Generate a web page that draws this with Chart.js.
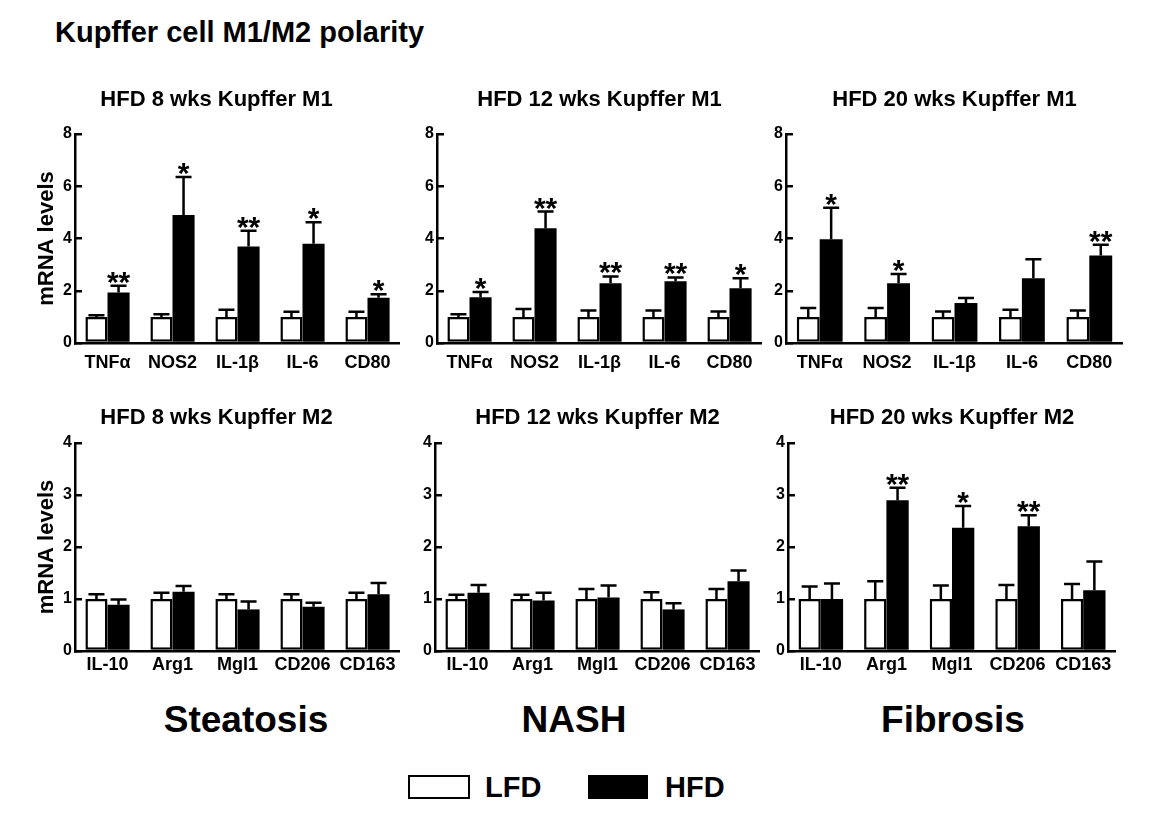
<!DOCTYPE html>
<html>
<head>
<meta charset="utf-8">
<title>Kupffer cell M1/M2 polarity</title>
<script src="https://cdn.jsdelivr.net/npm/chart.js@4.4.1/dist/chart.umd.min.js"></script>
<style>
  body { margin: 0; background: #fff; font-family: 'Liberation Sans', Arial, sans-serif; }
  #page { position: relative; width: 1151px; height: 826px; overflow: hidden; background: #fff; }
  .txt { position: absolute; font-weight: bold; line-height: 1; white-space: nowrap; color: #000; }
  .ctr { text-align: center; width: 300px; }
  canvas { position: absolute; }
  .box { position: absolute; box-sizing: border-box; border: 2.5px solid #000; }
</style>
</head>
<body>
<div id="page">
  <div class="txt" style="left:55px;top:18px;font-size:29px">Kupffer cell M1/M2 polarity</div>

  <canvas id="p1"></canvas>
  <canvas id="p2"></canvas>
  <canvas id="p3"></canvas>
  <canvas id="p4"></canvas>
  <canvas id="p5"></canvas>
  <canvas id="p6"></canvas>

  <div class="txt ctr" style="left:96px;top:701px;font-size:37px">Steatosis</div>
  <div class="txt ctr" style="left:424px;top:701px;font-size:37px">NASH</div>
  <div class="txt ctr" style="left:803px;top:701px;font-size:37px">Fibrosis</div>

  <div class="box" style="left:408px;top:775px;width:62px;height:24px;background:#fff"></div>
  <div class="txt" style="left:485px;top:773px;font-size:29px">LFD</div>
  <div class="box" style="left:588px;top:775px;width:60px;height:24px;background:#000"></div>
  <div class="txt" style="left:665px;top:773px;font-size:29px">HFD</div>
</div>

<script>
// genes
const m1Genes = ['TNFα', 'NOS2', 'IL-1β', 'IL-6', 'CD80'];
const m2Genes = ['IL-10', 'Arg1', 'Mgl1', 'CD206', 'CD163'];

// HFD 8 wks, M1
const lfd8M1 = [1, 1, 1, 1, 1];
const lfd8M1Sem = [0.06, 0.1, 0.27, 0.2, 0.2];
const hfd8M1 = [1.93, 4.9, 3.69, 3.8, 1.73];
const hfd8M1Sem = [0.26, 1.45, 0.61, 0.82, 0.14];
const sig8M1 = ['**', '*', '**', '*', '*'];

// HFD 12 wks, M1
const lfd12M1 = [1, 1, 1, 1, 1];
const lfd12M1Sem = [0.1, 0.3, 0.24, 0.24, 0.21];
const hfd12M1 = [1.75, 4.39, 2.29, 2.36, 2.1];
const hfd12M1Sem = [0.2, 0.64, 0.26, 0.15, 0.38];
const sig12M1 = ['*', '**', '**', '**', '*'];

// HFD 20 wks, M1
const lfd20M1 = [1, 1, 1, 1, 1];
const lfd20M1Sem = [0.34, 0.34, 0.21, 0.27, 0.24];
const hfd20M1 = [3.97, 2.29, 1.53, 2.48, 3.35];
const hfd20M1Sem = [1.21, 0.35, 0.19, 0.73, 0.41];
const sig20M1 = ['*', '*', '', '', '**'];

// HFD 8 wks, M2
const lfd8M2 = [1, 1, 1, 1, 1];
const lfd8M2Sem = [0.09, 0.12, 0.09, 0.09, 0.12];
const hfd8M2 = [0.89, 1.14, 0.8, 0.85, 1.09];
const hfd8M2Sem = [0.1, 0.11, 0.15, 0.08, 0.22];
const sig8M2 = ['', '', '', '', ''];

// HFD 12 wks, M2
const lfd12M2 = [1, 1, 1, 1, 1];
const lfd12M2Sem = [0.08, 0.08, 0.19, 0.13, 0.19];
const hfd12M2 = [1.12, 0.97, 1.03, 0.8, 1.34];
const hfd12M2Sem = [0.15, 0.15, 0.23, 0.12, 0.21];
const sig12M2 = ['', '', '', '', ''];

// HFD 20 wks, M2
const lfd20M2 = [1, 1, 1, 1, 1];
const lfd20M2Sem = [0.24, 0.34, 0.26, 0.27, 0.29];
const hfd20M2 = [1.0, 2.9, 2.37, 2.4, 1.17];
const hfd20M2Sem = [0.3, 0.24, 0.42, 0.21, 0.55];
const sig20M2 = ['', '**', '*', '**', ''];

const yMaxM1 = 8, yStepM1 = 2;
const yMaxM2 = 4, yStepM2 = 1;

Chart.defaults.font.family = "'Liberation Sans', Arial, sans-serif";
Chart.defaults.color = '#000';

// SEM bars (upward only) and significance stars
const errorBars = {
  id: 'errorBars',
  afterDatasetsDraw(chart) {
    const ctx = chart.ctx;
    const y = chart.scales.y;
    ctx.save();
    ctx.strokeStyle = '#000';
    ctx.fillStyle = '#000';
    ctx.lineWidth = 2.5;
    chart.data.datasets.forEach((ds, i) => {
      chart.getDatasetMeta(i).data.forEach((bar, j) => {
        const top = y.getPixelForValue(ds.data[j] + ds.sem[j]);
        ctx.beginPath();
        ctx.moveTo(bar.x, bar.y);
        ctx.lineTo(bar.x, top);
        ctx.moveTo(bar.x - 8, top);
        ctx.lineTo(bar.x + 8, top);
        ctx.stroke();
        if (ds.sig && ds.sig[j]) {
          ctx.font = "bold 30px 'Liberation Sans', Arial, sans-serif";
          ctx.textAlign = 'center';
          ctx.textBaseline = 'alphabetic';
          ctx.fillText(ds.sig[j], bar.x, top + 6);
        }
      });
    });
    ctx.restore();
  }
};

const panels = [
  { id: 'p1', title: 'HFD 8 wks Kupffer M1', labels: m1Genes, lfd: lfd8M1, lfdSem: lfd8M1Sem, hfd: hfd8M1, hfdSem: hfd8M1Sem, sig: sig8M1,
    max: yMaxM1, step: yStepM1, row: 0, left: 33, width: 367, yWidth: 42, yTitle: true },
  { id: 'p2', title: 'HFD 12 wks Kupffer M1', labels: m1Genes, lfd: lfd12M1, lfdSem: lfd12M1Sem, hfd: hfd12M1, hfdSem: hfd12M1Sem, sig: sig12M1,
    max: yMaxM1, step: yStepM1, row: 0, left: 410, width: 352, yWidth: 27 },
  { id: 'p3', title: 'HFD 20 wks Kupffer M1', labels: m1Genes, lfd: lfd20M1, lfdSem: lfd20M1Sem, hfd: hfd20M1, hfdSem: hfd20M1Sem, sig: sig20M1,
    max: yMaxM1, step: yStepM1, row: 0, left: 760, width: 363, yWidth: 26 },
  { id: 'p4', title: 'HFD 8 wks Kupffer M2', labels: m2Genes, lfd: lfd8M2, lfdSem: lfd8M2Sem, hfd: hfd8M2, hfdSem: hfd8M2Sem, sig: sig8M2,
    max: yMaxM2, step: yStepM2, row: 1, left: 33, width: 367, yWidth: 42, yTitle: true },
  { id: 'p5', title: 'HFD 12 wks Kupffer M2', labels: m2Genes, lfd: lfd12M2, lfdSem: lfd12M2Sem, hfd: hfd12M2, hfdSem: hfd12M2Sem, sig: sig12M2,
    max: yMaxM2, step: yStepM2, row: 1, left: 410, width: 350, yWidth: 25 },
  { id: 'p6', title: 'HFD 20 wks Kupffer M2', labels: m2Genes, lfd: lfd20M2, lfdSem: lfd20M2Sem, hfd: hfd20M2, hfdSem: hfd20M2Sem, sig: sig20M2,
    max: yMaxM2, step: yStepM2, row: 1, left: 760, width: 356, yWidth: 28 }
];

// row geometry: canvas top, canvas height, title padding, x label padding
const rows = [
  { top: 80, height: 303, titlePad: { top: 7, bottom: 20.6 }, labelPad: 1 },
  { top: 395, height: 296, titlePad: { top: 9.3, bottom: 12.3 }, labelPad: -5 }
];

panels.forEach(p => {
  const r = rows[p.row];
  const cv = document.getElementById(p.id);
  cv.width = p.width;
  cv.height = r.height;
  cv.style.left = p.left + 'px';
  cv.style.top = r.top + 'px';

  new Chart(cv, {
    type: 'bar',
    data: {
      labels: p.labels,
      datasets: [
        { label: 'LFD', data: p.lfd, sem: p.lfdSem, backgroundColor: '#fff', borderColor: '#000', borderWidth: 2.5, borderSkipped: false,
          categoryPercentage: 0.68, barPercentage: 1 },
        { label: 'HFD', data: p.hfd, sem: p.hfdSem, sig: p.sig, backgroundColor: '#000', borderColor: '#000', borderWidth: 0,
          categoryPercentage: 0.68, barPercentage: 1 }
      ]
    },
    options: {
      responsive: false,
      animation: false,
      devicePixelRatio: 1,
      layout: { padding: 0 },
      plugins: {
        legend: { display: false },
        tooltip: { enabled: false },
        title: {
          display: true,
          text: p.title,
          fullSize: !!p.yTitle,
          color: '#000',
          font: { size: 22, weight: 'bold' },
          padding: r.titlePad
        }
      },
      scales: {
        x: {
          offset: true,
          grid: { display: false },
          border: { color: '#000', width: 2.5 },
          ticks: { color: '#000', font: { size: 18, weight: 'bold' }, padding: r.labelPad, maxRotation: 0, autoSkip: false },
          afterFit(s) { s.height = 40; }
        },
        y: {
          min: 0,
          max: p.max,
          // inward tick marks, labels just left of the axis
          ticks: { stepSize: p.step, color: '#000', font: { size: 16, weight: 'bold' }, padding: 10 },
          grid: { drawOnChartArea: false, tickLength: -7, color: '#000', lineWidth: 2.5 },
          border: { color: '#000', width: 2.5 },
          title: {
            display: !!p.yTitle,
            text: 'mRNA levels',
            color: '#000',
            font: { size: 22, weight: 'bold' },
            padding: { top: 1, bottom: 0 }
          },
          afterFit(s) { s.width = p.yWidth; }
        }
      }
    },
    plugins: [errorBars]
  });
});
</script>
</body>
</html>
